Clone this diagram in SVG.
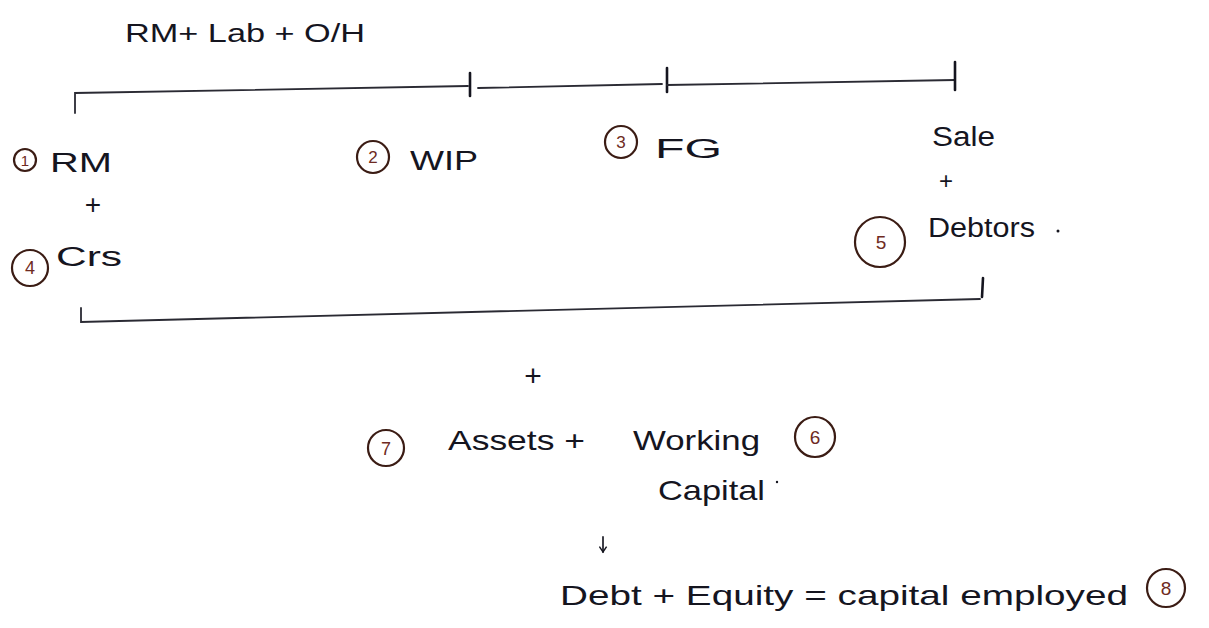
<svg xmlns="http://www.w3.org/2000/svg" width="1209" height="628" viewBox="0 0 1209 628">
  <style>
    .ink { font-family: "Liberation Sans", "DejaVu Sans", sans-serif; fill: #15151f; }
    .num { font-family: "Liberation Sans", "DejaVu Sans", sans-serif; fill: #6e2a22; text-anchor: middle; }
    .ring { fill: none; stroke: #3b1c14; stroke-width: 2.2; }
    .line { fill: none; stroke: #2a2a33; stroke-width: 1.8; stroke-linecap: round; }
    .tick { fill: none; stroke: #15151f; stroke-width: 2.6; stroke-linecap: round; }
  </style>
  <defs>
    <!-- open chevron head, drawn along +x so orient="auto" follows the line -->
    <marker id="arrowhead" viewBox="0 0 10 10" refX="8" refY="5" markerWidth="9" markerHeight="9" markerUnits="userSpaceOnUse" orient="auto">
      <path d="M2,1 L8,5 L2,9" fill="none" stroke="#15151f" stroke-width="1.6"/>
    </marker>
  </defs>
  <rect width="1209" height="628" fill="#ffffff"/>

  <!-- cost build-up heading -->
  <g id="cost-heading">
    <text class="ink" x="125" y="42" font-size="26" textLength="240" lengthAdjust="spacingAndGlyphs">RM+ Lab + O/H</text>
  </g>

  <!-- timeline brackets and arrow -->
  <g id="connectors">
    <path class="line" d="M75,113 L75,93 L468,86"/>
    <path class="tick" d="M470,73 L470,96"/>
    <path class="line" d="M478,88 L662,84"/>
    <path class="tick" d="M667,68 L667,92"/>
    <path class="line" d="M667,85 L955,80"/>
    <path class="tick" d="M955,62 L955,90"/>
    <path class="line" d="M81,308 L81,322 L980,299"/>
    <path class="tick" d="M983,278 L982,297"/>
    <path class="line" d="M603,537 L603,552" marker-end="url(#arrowhead)"/>
  </g>

  <g id="node-rm">
    <circle class="ring" cx="25" cy="160" r="11"/>
    <text class="num" x="25" y="166" font-size="15">1</text>
    <text class="ink" x="50" y="172" font-size="28" textLength="62" lengthAdjust="spacingAndGlyphs">RM</text>
    <text class="ink" x="93" y="214" font-size="28" text-anchor="middle">+</text>
  </g>

  <g id="node-crs">
    <circle class="ring" cx="30" cy="268" r="18"/>
    <text class="num" x="30" y="274" font-size="18">4</text>
    <text class="ink" x="56" y="266" font-size="27" textLength="66" lengthAdjust="spacingAndGlyphs">Crs</text>
  </g>

  <g id="node-wip">
    <circle class="ring" cx="373" cy="157" r="16"/>
    <text class="num" x="373" y="163" font-size="17">2</text>
    <text class="ink" x="410" y="170" font-size="28" textLength="68" lengthAdjust="spacingAndGlyphs">WIP</text>
  </g>

  <g id="node-fg">
    <circle class="ring" cx="621" cy="142" r="16"/>
    <text class="num" x="621" y="148" font-size="17">3</text>
    <text class="ink" x="655" y="158" font-size="27" textLength="67" lengthAdjust="spacingAndGlyphs">FG</text>
  </g>

  <g id="node-sale-debtors">
    <text class="ink" x="932" y="146" font-size="27" textLength="63" lengthAdjust="spacingAndGlyphs">Sale</text>
    <text class="ink" x="946" y="189" font-size="24" text-anchor="middle">+</text>
    <circle class="ring" cx="880" cy="242" r="25"/>
    <text class="num" x="881" y="249" font-size="19">5</text>
    <text class="ink" x="928" y="237" font-size="27" textLength="107" lengthAdjust="spacingAndGlyphs">Debtors</text>
    <circle cx="1058" cy="231" r="1.5" fill="#15151f"/>
  </g>

  <g id="plus-join">
    <text class="ink" x="533" y="386" font-size="30" text-anchor="middle">+</text>
  </g>

  <g id="node-assets">
    <circle class="ring" cx="386" cy="448" r="18"/>
    <text class="num" x="386" y="455" font-size="18">7</text>
    <text class="ink" x="448" y="450" font-size="28" textLength="137" lengthAdjust="spacingAndGlyphs">Assets +</text>
  </g>

  <g id="node-working-capital">
    <text class="ink" x="633" y="450" font-size="28" textLength="127" lengthAdjust="spacingAndGlyphs">Working</text>
    <text class="ink" x="658" y="500" font-size="28" textLength="107" lengthAdjust="spacingAndGlyphs">Capital</text>
    <circle cx="777" cy="482" r="1.2" fill="#15151f"/>
    <circle class="ring" cx="815" cy="437" r="20"/>
    <text class="num" x="815" y="444" font-size="19">6</text>
  </g>

  <g id="node-capital-employed">
    <text class="ink" x="560" y="605" font-size="28" textLength="568" lengthAdjust="spacingAndGlyphs">Debt + Equity = capital employed</text>
    <circle class="ring" cx="1166" cy="588" r="19"/>
    <text class="num" x="1166" y="595" font-size="19">8</text>
  </g>
</svg>
